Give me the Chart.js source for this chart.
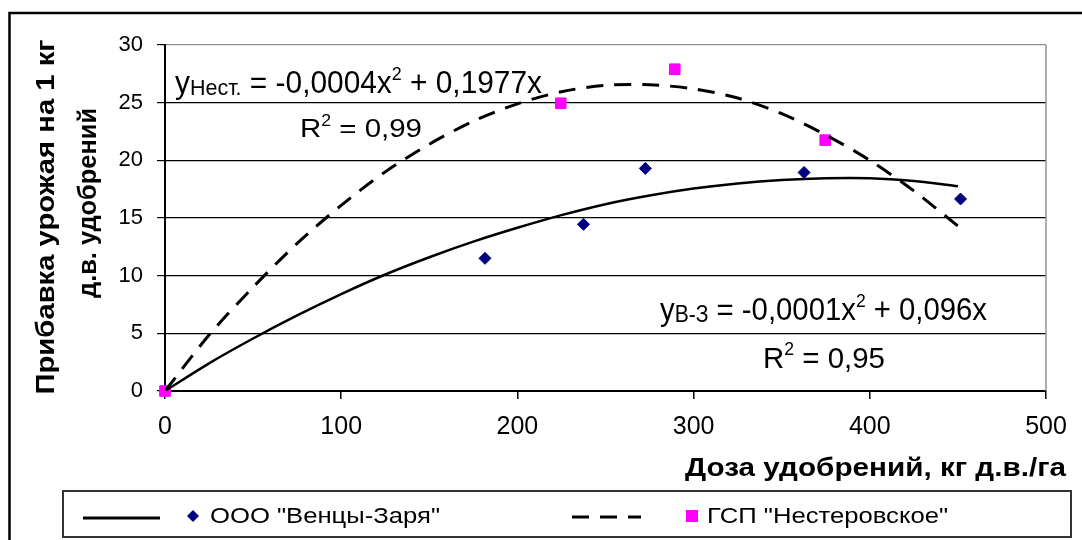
<!DOCTYPE html>
<html>
<head>
<meta charset="utf-8">
<script src="https://cdn.jsdelivr.net/npm/chart.js@4.4.0/dist/chart.umd.min.js"></script>
<style>
  html, body { margin: 0; padding: 0; background: #fff; }
  #wrap { width: 1082px; height: 540px; }
</style>
</head>
<body>
<div id="wrap"><canvas id="chart" width="1082" height="540"></canvas></div>
<script>
// Series names
var seriesNames = ['ООО "Венцы-Заря"', 'ГСП "Нестеровское"']

// Measured points (dose, gain)
var venetsX = [0, 181.6, 237.5, 272.6, 362.7, 451.5]
var venetsY = [0, 11.5, 14.45, 19.3, 18.95, 16.65]
var nestX = [0, 224.6, 289.3, 374.7]
var nestY = [0, 24.95, 27.9, 21.75]

// Trend lines, every 25 kg
var trendX = [0, 25, 50, 75, 100, 125, 150, 175, 200, 225, 250, 275, 300, 325, 350, 375, 400, 425, 450]
var trendVenets = [0, 2.4, 4.55, 6.55, 8.4, 10.1, 11.6, 12.95, 14.15, 15.25, 16.2, 16.95, 17.55, 18.0, 18.3, 18.45, 18.45, 18.2, 17.75]
var trendNest = [0, 4.85, 9.0, 12.8, 16.1, 19.0, 21.4, 23.4, 24.9, 25.95, 26.5, 26.55, 26.2, 25.4, 24.05, 22.2, 20.0, 17.35, 14.3]

// Axis ticks
var xTicks = [0, 100, 200, 300, 400, 500]
var yTicks = [0, 5, 10, 15, 20, 25, 30]

// Text on the chart
var xTitle = 'Доза удобрений, кг д.в./га'
var yTitle = ['Прибавка урожая на 1 кг', 'д.в. удобрений']
var eqNest = [['y', 'n'], ['Нест.', 'sub'], [' = -0,0004x', 'n'], ['2', 'sup'], [' + 0,1977x', 'n']]
var r2Nest = [['R', 'n'], ['2', 'sup'], [' = 0,99', 'n']]
var eqVenets = [['y', 'n'], ['В-З', 'sub'], [' = -0,0001x', 'n'], ['2', 'sup'], [' + 0,096x', 'n']]
var r2Venets = [['R', 'n'], ['2', 'sup'], [' = 0,95', 'n']]

var FONT = '"Liberation Sans", Arial, sans-serif'

function toPoints(xs, ys) {
  return xs.map(function (x, i) { return { x: x, y: ys[i] } })
}

// draw a text squeezed/stretched to a given width
function fitText(ctx, text, x, y, w, font) {
  ctx.save()
  ctx.font = font
  var m = ctx.measureText(text).width
  ctx.translate(x, y)
  ctx.scale(w / m, 1)
  ctx.textAlign = 'left'
  ctx.textBaseline = 'alphabetic'
  ctx.fillText(text, 0, 0)
  ctx.restore()
}

// text with sub/superscripts, fitted to width
function richText(ctx, parts, x, y, size, w) {
  function fontOf(kind) {
    var s = kind === 'n' ? size : (kind === 'sub' ? size * 0.72 : size * 0.6)
    return s + 'px ' + FONT
  }
  function dyOf(kind) {
    return kind === 'sub' ? size * 0.06 : (kind === 'sup' ? -size * 0.42 : 0)
  }
  var total = 0
  parts.forEach(function (p) {
    ctx.font = fontOf(p[1])
    total += ctx.measureText(p[0]).width
  })
  ctx.save()
  ctx.translate(x, y)
  ctx.scale(w / total, 1)
  ctx.fillStyle = '#000'
  ctx.textBaseline = 'alphabetic'
  ctx.textAlign = 'left'
  var cx = 0
  parts.forEach(function (p) {
    ctx.font = fontOf(p[1])
    ctx.fillText(p[0], cx, dyOf(p[1]))
    cx += ctx.measureText(p[0]).width
  })
  ctx.restore()
}

var framePlugin = {
  id: 'frame',
  beforeDraw: function (chart) {
    var ctx = chart.ctx
    ctx.save()
    ctx.fillStyle = '#fff'
    ctx.fillRect(0, 0, chart.width, chart.height)
    ctx.strokeStyle = '#000'
    ctx.lineWidth = 2.5
    ctx.beginPath()
    ctx.moveTo(9.5, 545)
    ctx.lineTo(9.5, 13)
    ctx.lineTo(1090, 13)
    ctx.stroke()
    ctx.restore()
  },
  afterDraw: function (chart) {
    var ctx = chart.ctx
    var a = chart.chartArea
    ctx.save()

    // right border of plot area
    ctx.strokeStyle = '#909090'
    ctx.lineWidth = 1.5
    ctx.beginPath()
    ctx.moveTo(a.right, a.top)
    ctx.lineTo(a.right, a.bottom)
    ctx.stroke()

    ctx.fillStyle = '#000'

    // axis titles
    fitText(ctx, xTitle, 685, 476, 381, 'bold 25px ' + FONT)
    var yLines = [[54, 217, 355], [96, 203, 190]]
    yTitle.forEach(function (t, i) {
      ctx.save()
      ctx.translate(yLines[i][0], yLines[i][1])
      ctx.rotate(-Math.PI / 2)
      fitText(ctx, t, -yLines[i][2] / 2, 0, yLines[i][2], 'bold 26px ' + FONT)
      ctx.restore()
    })

    // trend equations
    richText(ctx, eqNest, 175, 93, 31, 367)
    richText(ctx, r2Nest, 300, 137, 26, 122)
    richText(ctx, eqVenets, 660, 320, 32, 327)
    richText(ctx, r2Venets, 763, 368, 30, 122)

    // legend
    var ds = chart.data.datasets
    ctx.strokeStyle = '#333'
    ctx.lineWidth = 2
    ctx.strokeRect(63, 491, 1008, 46)

    ctx.strokeStyle = ds[0].borderColor
    ctx.lineWidth = 3
    ctx.beginPath()
    ctx.moveTo(83, 518)
    ctx.lineTo(160, 518)
    ctx.stroke()

    ctx.fillStyle = ds[3].backgroundColor
    ctx.beginPath()
    ctx.moveTo(193, 510)
    ctx.lineTo(199, 516)
    ctx.lineTo(193, 522)
    ctx.lineTo(187, 516)
    ctx.closePath()
    ctx.fill()
    ctx.fillStyle = '#000'
    fitText(ctx, seriesNames[0], 210, 523, 230, '22px ' + FONT)

    ctx.strokeStyle = ds[1].borderColor
    ctx.setLineDash(ds[1].borderDash)
    ctx.beginPath()
    ctx.moveTo(572, 517)
    ctx.lineTo(641, 517)
    ctx.stroke()
    ctx.setLineDash([])

    ctx.fillStyle = ds[2].backgroundColor
    ctx.fillRect(686, 510, 12, 12)
    ctx.fillStyle = '#000'
    fitText(ctx, seriesNames[1], 707, 523, 241, '22px ' + FONT)

    ctx.restore()
  }
}

Chart.defaults.font.family = FONT
Chart.defaults.color = '#000'

var ctx = document.getElementById('chart').getContext('2d')
var chart = new Chart(ctx, {
  type: 'scatter',
  data: {
    datasets: [
      {
        label: 'trend ' + seriesNames[0],
        type: 'line',
        data: toPoints(trendX, trendVenets),
        borderColor: '#000',
        borderWidth: 2.5,
        pointRadius: 0,
        tension: 0.3,
        fill: false
      },
      {
        label: 'trend ' + seriesNames[1],
        type: 'line',
        data: toPoints(trendX, trendNest),
        borderColor: '#000',
        borderWidth: 3,
        borderDash: [17, 11],
        pointRadius: 0,
        tension: 0.3,
        fill: false
      },
      {
        label: seriesNames[1],
        data: toPoints(nestX, nestY),
        pointStyle: 'rect',
        pointRadius: 7.5,
        backgroundColor: '#FF00FF',
        borderColor: '#FF00FF',
        borderWidth: 1,
        clip: false
      },
      {
        label: seriesNames[0],
        data: toPoints(venetsX, venetsY),
        pointStyle: 'rectRot',
        pointRadius: 6,
        backgroundColor: '#000080',
        borderColor: '#000080',
        borderWidth: 1,
        clip: false
      }
    ]
  },
  options: {
    responsive: false,
    devicePixelRatio: 1,
    animation: false,
    layout: { padding: { left: 0, top: 45, right: 36, bottom: 0 } },
    plugins: {
      legend: { display: false },
      tooltip: { enabled: false }
    },
    scales: {
      x: {
        type: 'linear',
        min: 0,
        max: 500,
        afterBuildTicks: function (scale) {
          scale.ticks = xTicks.map(function (v) { return { value: v } })
        },
        afterFit: function (scale) { scale.height = 149 },
        ticks: { font: { size: 25 }, color: '#000', padding: 13, maxRotation: 0 },
        grid: { drawOnChartArea: false, drawTicks: true, tickLength: 8, color: '#000', lineWidth: 1.5 },
        border: { display: true, color: '#000', width: 2 }
      },
      y: {
        min: 0,
        max: 30,
        afterBuildTicks: function (scale) {
          scale.ticks = yTicks.map(function (v) { return { value: v } })
        },
        afterFit: function (scale) { scale.width = 165 },
        ticks: { font: { size: 22 }, color: '#000', padding: 14 },
        grid: {
          drawTicks: true,
          tickLength: 8,
          lineWidth: 1.2,
          tickColor: '#000',
          color: function (c) { return c.tick && c.tick.value === 30 ? '#909090' : '#000' }
        },
        border: { display: true, color: '#000', width: 2 }
      }
    }
  },
  plugins: [framePlugin]
})
</script>
</body>
</html>
